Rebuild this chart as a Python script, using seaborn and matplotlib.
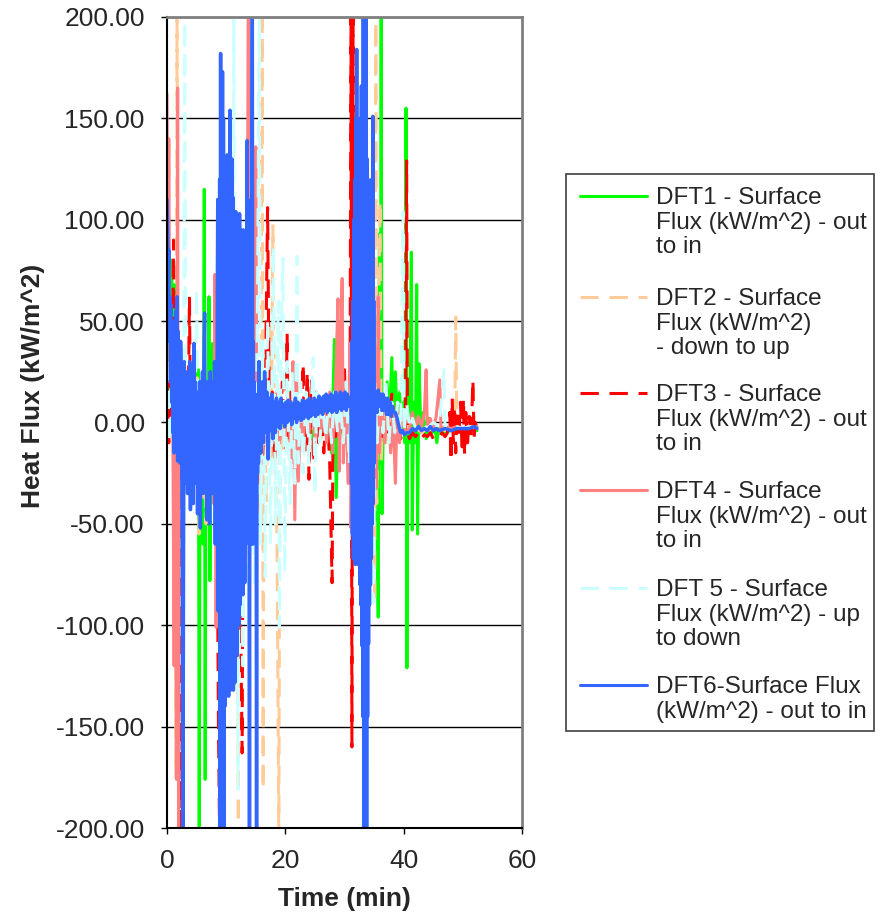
import numpy as np
import pandas as pd
import seaborn as sns
import matplotlib.pyplot as plt
from matplotlib.lines import Line2D
from matplotlib.patches import Rectangle

# (time in min, heat flux in kW/m^2)
dft1 = [(0.0, 0), (0.4, 20), (0.8, 80), (1.0, 10), (1.3, 68), (1.6, -5), (2.0, 10), (2.5, -10),
        (3.0, 5), (3.5, -8), (4.0, 8), (4.5, -5), (4.8, 26), (5.0, -10), (5.3, 26), (5.45, -205),
        (5.6, 20), (5.9, -15), (6.1, -60), (6.3, 115), (6.45, -176), (6.6, 10), (6.9, -20),
        (7.1, 62), (7.25, -78), (7.5, 15), (7.7, 39), (7.9, -10), (8.2, 5), (8.6, -15), (9.0, 5),
        (10.0, -10), (11.0, 8), (12.0, -20), (13.0, 5), (14.0, -15), (15.0, 10), (16.0, -5),
        (17.0, 8), (18.0, -10), (19.0, 12), (20.0, -8), (20.8, 15), (21.2, -15), (21.6, 10),
        (22.5, -5), (23.5, 5), (24.5, -8), (25.5, 6), (26.5, -5), (27.3, 8), (27.8, -15),
        (28.3, 41), (28.6, -37), (29.0, 10), (29.5, -5), (30.0, 8), (30.5, -10), (31.0, 15),
        (31.5, -20), (32.0, 10), (32.5, -10), (33.0, 5), (33.5, -10), (34.0, 8), (34.5, -10),
        (35.0, 20), (35.4, -30), (35.7, -96), (35.9, 93), (36.05, -20), (36.2, 205), (36.35, -45),
        (36.6, 10), (36.9, -10), (37.2, 20), (37.5, -5), (38.0, 32), (38.3, -10), (38.6, 25),
        (39.0, -5), (39.3, 15), (39.6, -5), (40.0, 10), (40.2, -10), (40.4, 155), (40.55, -121),
        (40.7, 20), (41.0, -10), (41.3, 84), (41.45, -53), (41.7, 10), (42.0, -10), (42.2, 68),
        (42.35, -55), (42.6, 29), (42.9, -5), (43.3, 5), (43.8, -8), (44.3, 2), (44.8, -5),
        (45.3, -3), (45.6, -10), (45.9, -3), (46.5, -5), (48.0, -4), (50.0, -4), (52.4, -4)]

dft2 = [(0.0, 30), (0.3, 10), (0.7, 40), (1.0, 5), (1.3, 30), (1.5, -175), (1.7, 205), (1.85, -100),
        (2.0, 20), (2.4, -15), (2.8, 10), (3.2, -20), (3.6, 15), (4.0, -10), (4.4, 20), (4.8, -17),
        (5.1, 22), (5.4, -55), (5.7, 12), (6.0, -40), (6.3, 15), (6.6, -50), (6.9, 12), (7.2, -30),
        (7.5, 10), (7.8, -20), (8.2, 5), (8.6, -15), (9.0, 10), (9.5, -30), (10.0, 20), (10.5, -40),
        (11.0, 15), (11.5, -50), (11.9, 10), (12.05, -205), (12.2, 0), (12.6, -30), (13.0, 20),
        (13.5, -40), (14.0, 30), (14.5, -20), (15.0, 60), (15.4, -10), (15.8, -50), (16.1, 205),
        (16.25, -181), (16.4, 10), (16.8, -40), (17.2, 50), (17.6, -20), (17.9, 97), (18.2, -10),
        (18.6, -60), (18.9, -205), (19.1, 10), (19.5, -15), (20.0, 20), (20.5, -10), (21.0, 15),
        (21.5, -8), (22.0, 10), (22.5, -10), (23.0, 8), (24.0, -5), (25.0, 6), (26.0, -8),
        (27.0, 10), (28.0, -10), (29.0, 8), (30.0, -5), (31.0, 10), (32.0, -15), (33.0, 10),
        (34.0, -20), (34.8, 30), (35.1, -89), (35.3, 205), (35.45, -40), (35.7, 20), (36.0, 109),
        (36.2, -20), (36.5, 10), (37.0, -10), (38.0, 5), (39.0, -5), (40.0, 5), (41.0, -5),
        (42.0, -2), (43.0, -5), (44.0, -3), (45.0, -5), (46.0, -3), (47.0, -4), (48.0, -3),
        (48.6, -4), (48.8, 52), (49.0, -4), (50.0, -3), (51.0, -4), (52.4, -3)]

dft3 = [(0.0, 20), (0.3, -10), (0.6, 30), (0.9, 0), (1.1, 90), (1.3, -10), (1.6, 60), (1.8, -30),
        (2.1, -205), (2.3, 10), (2.7, -20), (3.0, 15), (3.5, -10), (3.8, 62), (4.0, -15), (4.4, 12),
        (4.8, -10), (5.2, 12), (5.6, -20), (6.0, 5), (6.5, -15), (7.0, 10), (7.5, -20), (8.0, 15),
        (8.4, -10), (8.7, -150), (8.9, -205), (9.1, 10), (9.5, -30), (9.9, 90), (10.2, -20),
        (10.7, 30), (11.2, -40), (11.7, 40), (12.2, -30), (12.7, -163), (12.9, 20), (13.3, -40),
        (13.8, 100), (14.1, -30), (14.6, 20), (15.1, -50), (15.6, 30), (16.1, -20), (16.6, 10),
        (17.0, 106), (17.2, 37), (17.4, -10), (17.8, 15), (18.2, -20), (18.6, 10), (19.0, -10),
        (19.5, 20), (20.0, -15), (20.3, 44), (20.5, -10), (21.0, 15), (21.5, -20), (22.0, 10),
        (22.5, -15), (23.0, 29), (23.3, -15), (23.7, 25), (24.0, -28), (24.4, 22), (24.8, -20),
        (25.2, 15), (25.6, -10), (26.0, 10), (26.5, -15), (27.0, 10), (27.5, -20), (27.9, -79),
        (28.1, 10), (28.5, -10), (29.0, 15), (29.5, -5), (30.0, 26), (30.3, -10), (30.6, 20),
        (30.9, -30), (31.1, 205), (31.25, -160), (31.45, 205), (31.6, -40), (31.9, 30), (32.3, -30),
        (32.7, 25), (33.2, -20), (33.7, 30), (34.1, -67), (34.4, 55), (34.7, -20), (35.0, 10),
        (35.5, -15), (36.0, 10), (36.5, -10), (37.0, 10), (37.5, -5), (38.0, 14), (38.5, -5),
        (39.0, 5), (39.5, -8), (40.0, 5), (40.3, -5), (40.5, 129), (40.65, -5), (41.0, -8),
        (41.5, -5), (42.0, -7), (42.5, -5), (43.0, -8), (43.5, -6), (44.0, -7), (44.5, -5),
        (45.0, -8), (45.5, -6), (46.0, -7), (46.5, -5), (47.0, -7), (47.4, -5), (47.8, 5),
        (48.0, -19), (48.2, 12), (48.4, -10), (48.6, 8), (48.8, -15), (49.0, 6), (49.3, -8),
        (49.6, 10), (49.9, -15), (50.1, 12), (50.3, -16), (50.5, 5), (50.8, -10), (51.1, 3),
        (51.4, -8), (51.7, 21), (51.9, -8), (52.1, 0), (52.4, -3)]

dft4 = [(0.0, 162), (0.15, 60), (0.3, 140), (0.5, 20), (0.8, 50), (1.0, -10), (1.2, -120), (1.4, 30),
        (1.6, -176), (1.8, 165), (1.95, -205), (2.1, 40), (2.4, -20), (2.8, 10), (3.2, -15),
        (3.6, 10), (4.0, -10), (4.5, 15), (5.0, -20), (5.5, 10), (6.0, -15), (6.5, 5), (7.0, -20),
        (7.5, 10), (7.9, -40), (8.1, 73), (8.3, -101), (8.6, 110), (8.8, -20), (9.2, 10), (9.6, -30),
        (10.0, 20), (10.5, -40), (11.0, 30), (11.4, -129), (11.6, 20), (12.0, -30), (12.5, 40),
        (13.0, -20), (13.5, 50), (13.75, 205), (13.9, -40), (14.3, 30), (14.7, -20), (15.0, 136),
        (15.2, -10), (15.6, 20), (16.0, -20), (16.5, 10), (17.0, -15), (17.5, 10), (18.0, -10),
        (18.5, 15), (19.0, -10), (19.5, 10), (20.0, -8), (20.5, 10), (21.0, -20), (21.3, 30),
        (21.6, -48), (21.9, 25), (22.2, -29), (22.6, 10), (23.0, -10), (23.5, 8), (24.0, -5),
        (24.5, 10), (25.0, -8), (25.5, 8), (26.0, -5), (26.5, 10), (27.0, -10), (27.5, 15),
        (28.0, -15), (28.5, 20), (28.9, 61), (29.1, -24), (29.4, 40), (29.6, 71), (29.8, -20),
        (30.2, 20), (30.6, -30), (30.9, 39), (31.1, -52), (31.4, 10), (31.8, -30), (32.2, 20),
        (32.6, -20), (33.0, 30), (33.5, -30), (34.0, 20), (34.5, -20), (35.0, 15), (35.4, -32),
        (35.7, 62), (35.9, -15), (36.3, 10), (36.8, -10), (37.3, 10), (37.8, -15), (38.2, 5),
        (38.6, -30), (38.9, 10), (39.3, -10), (39.8, 5), (40.3, -5), (41.0, -3), (41.5, 5),
        (42.0, -3), (42.5, 3), (43.0, -2), (43.5, 5), (43.8, 26), (44.0, -3), (44.5, 2), (45.0, -3),
        (45.5, 3), (46.1, 21), (46.3, -3), (47.0, -2), (48.0, -3), (49.0, -2), (50.0, -3),
        (51.0, -2), (52.4, -2)]

dft5 = [(0.0, 30), (0.4, -10), (0.8, 40), (1.2, 0), (1.6, 30), (2.0, -20), (2.4, 20), (2.8, -30),
        (3.0, 205), (3.2, -30), (3.5, 20), (3.9, -15), (4.3, 15), (4.7, -10), (5.0, 66), (5.2, -5),
        (5.6, 10), (6.0, -20), (6.5, 10), (7.0, -15), (7.5, 15), (8.0, -20), (8.5, 20), (9.0, -40),
        (9.5, 40), (10.0, -60), (10.5, 50), (11.0, -80), (11.3, 205), (11.5, -100), (11.8, 40),
        (12.0, -181), (12.3, 30), (12.8, -120), (13.3, 60), (13.8, -100), (14.3, 50), (14.8, -80),
        (15.3, 60), (15.6, 205), (15.8, -60), (16.2, 40), (16.6, -76), (17.0, 50), (17.5, -60),
        (18.0, 87), (18.3, -50), (18.8, 60), (19.0, -101), (19.3, 50), (19.6, 81), (19.9, -74),
        (20.3, 30), (20.8, -40), (21.2, 25), (21.6, -30), (22.0, 82), (22.2, -20), (22.6, 20),
        (23.0, -25), (23.5, 15), (24.0, -20), (24.7, 32), (25.0, -35), (25.3, 15), (25.8, -10),
        (26.3, 10), (26.8, -8), (27.3, 10), (27.8, -10), (28.3, 15), (28.8, -5), (29.3, 10),
        (29.8, -10), (30.3, 20), (30.8, -20), (31.3, 30), (31.8, -30), (32.3, 40), (32.8, -40),
        (33.3, 30), (33.8, -30), (34.3, 20), (34.6, -50), (34.9, -89), (35.1, 20), (35.5, -10),
        (36.0, 15), (36.5, -5), (37.0, 20), (37.5, -10), (38.0, 10), (38.5, -5), (39.0, 10),
        (39.5, -5), (39.9, 104), (40.1, -5), (40.5, 10), (41.0, -3), (41.5, 2), (42.0, -3),
        (43.0, 0), (44.0, -3), (45.0, 0), (46.0, -2), (46.8, 26), (47.0, -2), (48.0, -3),
        (49.0, -2), (50.0, -3), (51.0, -2), (52.4, -3)]

dft6 = [(0.0, 110), (0.1, 96), (0.2, 70), (0.3, 85), (0.4, 40), (0.5, 62), (0.6, 20), (0.7, 58),
        (0.8, 10), (0.9, 45), (1.0, -5), (1.1, 50), (1.2, -15), (1.3, 40), (1.4, 0), (1.5, 55),
        (1.6, -10), (1.7, 62), (1.8, -19), (1.9, 45), (2.0, -10), (2.1, 30), (2.2, -20), (2.3, 40),
        (2.45, 10), (2.6, -80), (2.7, -205), (2.8, -60), (2.9, 30), (3.0, -10), (3.12, 20),
        (3.24, -30), (3.36, 25), (3.48, -35), (3.6, 15), (3.72, -20), (3.84, 30), (3.96, -43),
        (4.08, 20), (4.2, -15), (4.32, 28), (4.44, -40), (4.56, 39), (4.68, -5), (4.8, 20),
        (4.92, -30), (5.04, 15), (5.16, -45), (5.28, 10), (5.4, -25), (5.52, 20), (5.64, -52),
        (5.76, 15), (5.88, -20), (6.0, 25), (6.12, -35), (6.24, 30), (6.36, 54), (6.48, -30),
        (6.6, 15), (6.72, -48), (6.84, 20), (6.96, -25), (7.08, 10), (7.2, -50), (7.32, 25),
        (7.44, -20), (7.56, 15), (7.68, -35), (7.8, 20), (7.92, -15), (8.04, 30), (8.16, -60),
        (8.28, 20), (8.4, -40), (8.5, 60), (8.58, 110), (8.66, -93), (8.74, 100), (8.82, -80),
        (8.9, 120), (8.98, -205), (9.06, 182), (9.14, -205), (9.22, 170), (9.3, -205), (9.38, 173),
        (9.46, -205), (9.54, 150), (9.62, -205), (9.7, 90), (9.78, -140), (9.86, 120), (9.94, -135),
        (10.02, 110), (10.1, -120), (10.18, 132), (10.26, -130), (10.34, 100), (10.42, -135),
        (10.5, 125), (10.58, -110), (10.66, 154), (10.74, -132), (10.82, 120), (10.9, -112),
        (10.98, 130), (11.06, -125), (11.14, 111), (11.22, -132), (11.3, 100), (11.38, -120),
        (11.46, 95), (11.54, -128), (11.62, 104), (11.7, -110), (11.78, 90), (11.86, -115),
        (11.94, 100), (12.02, -93), (12.1, 80), (12.18, -100), (12.26, 103), (12.34, -90),
        (12.42, 95), (12.5, -85), (12.58, 90), (12.66, -79), (12.74, 70), (12.82, -85), (12.9, 95),
        (12.98, -70), (13.06, 80), (13.14, -79), (13.22, 60), (13.3, -60), (13.38, 90), (13.46, -48),
        (13.54, 139), (13.62, -55), (13.7, 110), (13.78, -40), (13.86, 30), (13.94, -205),
        (14.02, 40), (14.1, -60), (14.18, 60), (14.26, -40), (14.34, 100), (14.42, 205), (14.5, -60),
        (14.58, 40), (14.66, -45), (14.74, 20), (14.82, -30), (14.9, 14), (14.98, -40), (15.06, 10),
        (15.14, -205), (15.22, 10), (15.3, -25), (15.38, 14), (15.46, -20), (15.54, 30),
        (15.62, -15), (15.7, 14), (15.9, -15), (16.1, 20), (16.3, -10), (16.5, 25), (16.7, -5),
        (16.9, 15), (17.1, -18), (17.3, 12), (17.5, -4), (17.7, 14), (17.9, -8), (18.1, 10),
        (18.3, -5), (18.5, 12), (18.7, -2), (18.9, 10), (19.1, -3), (19.3, 12), (19.5, 0),
        (19.7, 9), (19.9, -2), (20.1, 10), (20.3, 0), (20.5, 11), (20.7, 1), (20.9, 10), (21.1, -1),
        (21.3, 9), (21.5, 2), (21.7, 12), (21.9, 0), (22.1, 10), (22.3, 2), (22.5, 9), (22.7, 1),
        (22.9, 11), (23.1, 2), (23.3, 10), (23.5, 3), (23.7, 11), (23.9, 2), (24.1, 12), (24.3, 3),
        (24.5, 10), (24.7, 4), (24.9, 12), (25.1, 3), (25.3, 11), (25.5, 4), (25.7, 13), (25.9, 5),
        (26.1, 12), (26.3, 4), (26.5, 13), (26.7, 6), (26.9, 14), (27.1, 5), (27.3, 13), (27.5, 6),
        (27.7, 14), (27.9, 5), (28.1, 13), (28.3, 6), (28.5, 15), (28.7, 5), (28.9, 13), (29.1, 7),
        (29.3, 15), (29.5, 6), (29.7, 14), (29.9, 7), (30.1, 15), (30.3, 6), (30.5, 14), (30.7, 8),
        (30.9, 12), (31.1, 10), (31.18, -30), (31.26, 40), (31.34, -55), (31.42, 60), (31.5, -67),
        (31.58, 100), (31.66, -60), (31.74, 120), (31.82, -70), (31.9, 150), (31.98, -65),
        (32.06, 184), (32.14, -68), (32.22, 130), (32.3, -70), (32.38, 120), (32.46, -60),
        (32.54, 140), (32.62, -80), (32.7, 150), (32.78, -90), (32.86, 166), (32.94, -110),
        (33.02, 160), (33.1, -145), (33.18, 205), (33.26, -205), (33.34, 205), (33.42, -205),
        (33.5, 205), (33.58, -205), (33.66, 205), (33.74, -205), (33.82, 130), (33.9, -145),
        (33.98, 120), (34.06, -109), (34.14, 110), (34.22, -90), (34.3, 100), (34.38, -80),
        (34.46, 90), (34.54, -67), (34.62, 120), (34.7, -50), (34.78, 151), (34.86, -40),
        (34.94, 60), (35.02, -20), (35.1, 10), (35.3, 15), (35.5, 5), (35.7, 16), (35.9, 8),
        (36.1, 14), (36.3, 6), (36.5, 14), (36.7, 6), (36.9, 12), (37.1, 4), (37.3, 12), (37.5, 4),
        (37.7, 10), (37.9, 3), (38.1, 8), (38.3, 5), (38.6, 5), (38.9, 2), (39.2, -2), (39.5, -5),
        (39.8, -4), (40.1, -6), (40.5, -5), (41.0, -5), (41.5, -3), (42.0, -4), (42.5, -2),
        (43.0, -4), (43.5, -3), (44.0, -4), (44.5, -2), (45.0, -4), (45.5, -3), (46.0, -4),
        (47.0, -3), (48.0, -4), (49.0, -3), (50.0, -3), (51.0, -3), (52.0, -2), (52.4, -3)]

labels = ["DFT1 - Surface\nFlux (kW/m^2) - out\nto in",
          "DFT2 - Surface\nFlux (kW/m^2)\n- down to up",
          "DFT3 - Surface\nFlux (kW/m^2) - out\nto in",
          "DFT4 - Surface\nFlux (kW/m^2) - out\nto in",
          "DFT 5 - Surface\nFlux (kW/m^2) - up\nto down",
          "DFT6-Surface Flux\n(kW/m^2) - out to in"]
colors = ["#00FF00", "#FFCC99", "#FF0000", "#FF8080", "#CCFFFF", "#3366FF"]
dashed = (0, (6, 3.5))
styles = ["-", dashed, dashed, "-", dashed, "-"]
widths = [2.2, 2.2, 2.2, 2.2, 2.2, 2.5]
series = [dft1, dft2, dft3, dft4, dft5, dft6]

sns.set_style("white")
plt.rcParams['font.family'] = ['Liberation Sans', 'DejaVu Sans']

W, H = 883, 915
fig = plt.figure(figsize=(W / 100, H / 100), dpi=100)
ax = fig.add_axes([167 / W, 1 - 828 / H, (522 - 167) / W, (828 - 17) / H])

for data, col, ls, lw in zip(series, colors, styles, widths):
    df = pd.DataFrame(data, columns=["t", "flux"])
    sns.lineplot(data=df, x="t", y="flux", ax=ax, color=col, lw=lw, linestyle=ls,
                 sort=False, estimator=None, errorbar=None, legend=False)

ax.set_xlim(0, 60)
ax.set_ylim(-200, 200)
ax.set_xticks([0, 20, 40, 60])
ax.set_yticks(np.arange(-200, 201, 50))
ax.yaxis.set_major_formatter(plt.FormatStrFormatter('%.2f'))
ax.yaxis.grid(True, color='black', lw=1)
ax.xaxis.grid(False)
ax.set_axisbelow(True)
ax.tick_params(axis='both', labelsize=19, length=4, width=1, direction='out', color='black')
ax.tick_params(axis='y', pad=12)
ax.tick_params(axis='x', pad=11)
ax.tick_params(left=True, bottom=True)
for s in ['left', 'bottom']:
    ax.spines[s].set_color('black')
    ax.spines[s].set_linewidth(1.5)
for s in ['top', 'right']:
    ax.spines[s].set_color('#808080')
    ax.spines[s].set_linewidth(2)

ax.set_xlabel("")
ax.set_ylabel("")
fig.text(344 / W, 1 - 899 / H, "Time (min)", fontsize=19, fontweight='bold', ha='center', va='center')
fig.text(33 / W, 1 - 386 / H, "Heat Flux (kW/m^2)", fontsize=19, fontweight='bold',
         rotation=90, ha='center', va='center')

# legend box drawn like the Excel one: handle next to the first line of each label
fig.add_artist(Rectangle((566 / W, 1 - 731 / H), (874 - 566) / W, (731 - 174) / H,
                         transform=fig.transFigure, fill=False, edgecolor='#404040', lw=1.2))
entry_y = [196, 297, 393, 490, 588, 685]
for lab, col, ls, yy in zip(labels, colors, styles, entry_y):
    fig.add_artist(Line2D([580 / W, 647 / W], [1 - yy / H, 1 - yy / H], transform=fig.transFigure,
                          color=col, lw=2.2, linestyle=ls))
    fig.text(656 / W, 1 - (yy - 9) / H, lab, fontsize=17.5, ha='left', va='top', linespacing=1.15)

fig.savefig("out.png", dpi=100, facecolor='white')
